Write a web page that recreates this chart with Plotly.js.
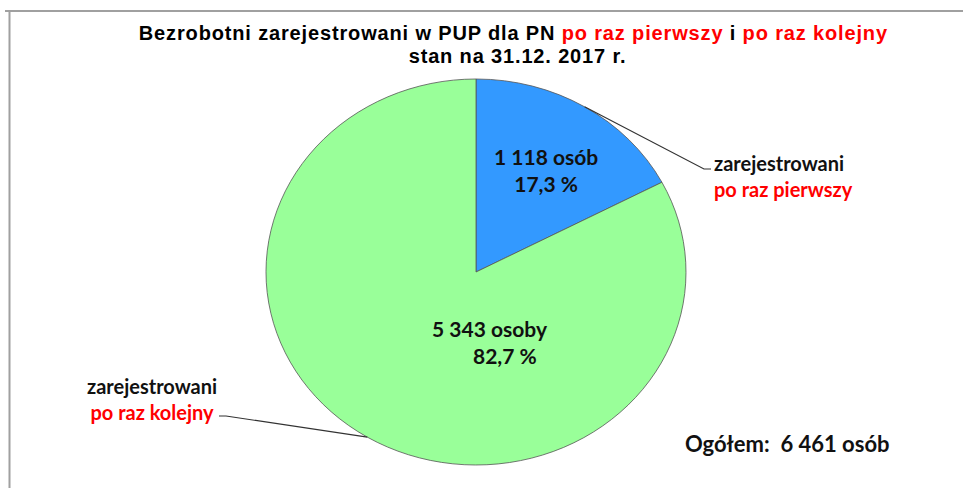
<!DOCTYPE html>
<html>
<head>
<meta charset="utf-8">
<script src="https://cdn.plot.ly/plotly-3.0.1.min.js"></script>
<style>
html,body{margin:0;padding:0;background:#fff;}
#chart{width:963px;height:488px;}
.pielayer path.surface{vector-effect:non-scaling-stroke;}
g.annotation[data-index="0"] text, g.annotation[data-index="1"] text{letter-spacing:0.85px;}
</style>
</head>
<body>
<div id="chart"></div>
<script>
// ---- data ----
const categories = ['po raz pierwszy', 'po raz kolejny'];
const values = [1118, 5343];
const units = ['osób', 'osoby'];
const sliceColors = ['#3399FF', '#99FF99'];
const totalLabel = 'Ogółem:';
const totalUnit = 'osób';
const titleLine1 = ['Bezrobotni zarejestrowani w PUP dla PN ', 'po raz pierwszy', ' i ', 'po raz kolejny'];
const titleLine2 = 'stan na 31.12. 2017 r.';

// ---- helpers ----
const W = 963, H = 488;
const px = x => x / W;
const py = y => 1 - y / H;
const fmt = n => String(n).replace(/\B(?=(\d{3})+(?!\d))/g, ' ');
const total = values.reduce((a, b) => a + b, 0);
const pct = v => (v / total * 100).toFixed(1).replace('.', ',') + ' %';
const RED = '#FF0000';
const red = s => '<span style="color:' + RED + '">' + s + '</span>';

// pie geometry (pixels): circle of radius Ry, stretched horizontally to Rx
const cx = 476, cy = 272, Ry = 193, Rx = 210;
let acc = 0;
const mid = values.map(v => { const a0 = acc; acc += v / total * 360; return (a0 + acc) / 2; });
const edge = i => {
  const a = mid[i] * Math.PI / 180;
  return [cx + Rx * Math.sin(a), cy - Ry * Math.cos(a)];
};

const trace = {
  type: 'pie',
  values: values,
  labels: categories,
  sort: false,
  direction: 'clockwise',
  rotation: 0,
  marker: { colors: sliceColors, line: { color: '#555555', width: 0.8 } },
  textinfo: 'none',
  hoverinfo: 'none',
  showlegend: false,
  domain: { x: [px(cx - Ry), px(cx + Ry)], y: [py(cy + Ry), py(cy - Ry)] }
};

const F = 'Lato, Carlito, sans-serif';
const ann = (x, y, text, size, extra) => Object.assign({
  x: px(x), y: py(y), xref: 'paper', yref: 'paper', showarrow: false,
  xanchor: 'center', yanchor: 'middle', align: 'center',
  text: text, font: { family: F, size: size, color: '#111' }
}, extra || {});

const e0 = edge(0), e1 = edge(1);
const titleFont = { family: 'Liberation Sans, Arial, sans-serif', size: 20, color: '#000' };

const layout = {
  width: W, height: H,
  margin: { l: 0, r: 0, t: 0, b: 0 },
  paper_bgcolor: '#ffffff',
  annotations: [
    ann(514, 33, '<b>' + titleLine1[0] + red(titleLine1[1]) + titleLine1[2] + red(titleLine1[3]) + '</b>', 20, { font: titleFont }),
    ann(517, 56, '<b>' + titleLine2 + '</b>', 20, { font: titleFont }),
    ann(546, 170, '<b>' + fmt(values[0]) + ' ' + units[0] + '<br>' + pct(values[0]) + '</b>', 21),
    ann(490, 328, '<b>' + fmt(values[1]) + ' ' + units[1] + '</b>', 21),
    ann(505, 355, '<b>' + pct(values[1]) + '</b>', 21),
    ann(712, 176, '<b>zarejestrowani<br>' + red(categories[0]) + '</b>', 20, { xanchor: 'left', align: 'left' }),
    ann(152, 398.5, '<b>zarejestrowani<br>' + red(categories[1]) + '</b>', 20),
    ann(787, 443, '<b>' + totalLabel + '  ' + fmt(total) + ' ' + totalUnit + '</b>', 22)
  ],
  shapes: [
    // frame
    { type: 'line', xref: 'paper', yref: 'paper', x0: px(5), x1: px(963), y0: py(11), y1: py(11), line: { color: '#A0A0A0', width: 2 } },
    { type: 'line', xref: 'paper', yref: 'paper', x0: px(9.5), x1: px(9.5), y0: py(11), y1: py(488), line: { color: '#A0A0A0', width: 2 } },
    // leader lines
    { type: 'path', xref: 'paper', yref: 'paper',
      path: 'M' + px(e0[0]) + ',' + py(e0[1]) + ' L' + px(704) + ',' + py(169) + ' L' + px(711) + ',' + py(169),
      line: { color: '#333', width: 1.2 } },
    { type: 'path', xref: 'paper', yref: 'paper',
      path: 'M' + px(e1[0]) + ',' + py(e1[1]) + ' L' + px(226) + ',' + py(416) + ' L' + px(219) + ',' + py(416),
      line: { color: '#333', width: 1.2 } }
  ]
};

Plotly.newPlot('chart', [trace], layout, { displayModeBar: false, staticPlot: true }).then(gd => {
  const g = gd.querySelector('.pielayer');
  if (g) {
    const s = Rx / Ry;
    g.setAttribute('transform', 'translate(' + cx + ',' + cy + ') scale(' + s + ',1) translate(' + (-cx) + ',' + (-cy) + ')');
  }
});
</script>
</body>
</html>
